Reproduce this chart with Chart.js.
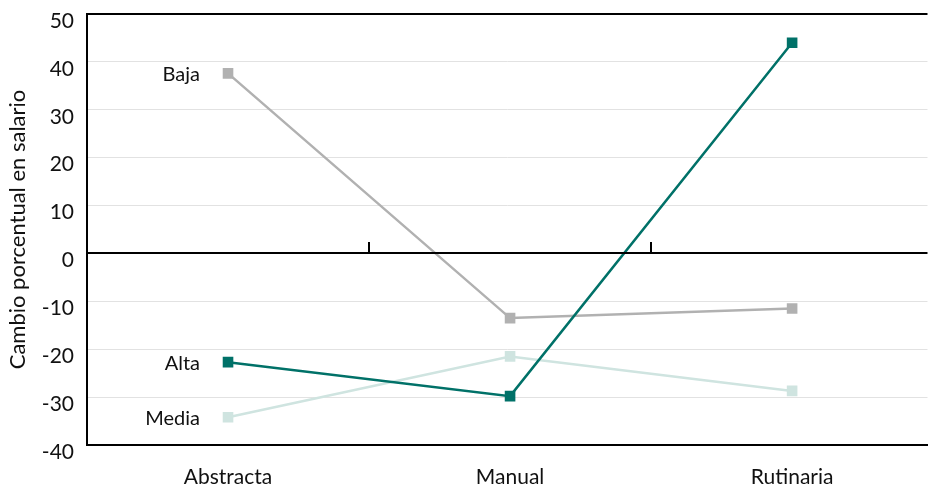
<!DOCTYPE html>
<html>
<head>
<meta charset="utf-8">
<script src="https://cdn.jsdelivr.net/npm/chart.js@4"></script>
<style>
  html, body { margin: 0; padding: 0; background: #fff; overflow: hidden; }
</style>
</head>
<body>
<canvas id="myChart" width="935" height="484"></canvas>
<script>
// categories and series
let categories = ["Abstracta", "Manual", "Rutinaria"];
let alta  = [-22.7, -29.8, 44.0];
let baja  = [37.6, -13.5, -11.5];
let media = [-34.2, -21.5, -28.7];
let seriesNames = ["Alta", "Baja", "Media"];
let seriesColors = ["#007168", "#b1b1b1", "#cfe4e0"];

// draws zero line with ticks and the series labels on the left
const extras = {
  id: "extras",
  afterDatasetsDraw(chart) {
    const ctx = chart.ctx;
    const x = chart.scales.x, y = chart.scales.y;
    const y0 = Math.round(y.getPixelForValue(0));
    ctx.save();
    ctx.strokeStyle = "#000";
    ctx.lineWidth = 2;
    ctx.beginPath();
    ctx.moveTo(x.left, y0);
    ctx.lineTo(x.right, y0);
    [0.5, 1.5].forEach(v => {
      const px = Math.round(x.getPixelForValue(v));
      ctx.moveTo(px, y0);
      ctx.lineTo(px, y0 - 11);
    });
    ctx.stroke();

    ctx.font = "20px Lato";
    ctx.fillStyle = "#111";
    ctx.textAlign = "right";
    ctx.textBaseline = "middle";
    chart.data.datasets.forEach((ds, i) => {
      const pt = chart.getDatasetMeta(i).data[0];
      ctx.fillText(ds.label, pt.x - 28, pt.y + 1);
    });
    ctx.restore();
  }
};

new Chart("myChart", {
  type: "line",
  data: {
    datasets: [alta, baja, media].map((d, i) => ({
      label: seriesNames[i],
      data: d.map((v, j) => ({ x: j, y: v })),
      borderColor: seriesColors[i],
      backgroundColor: seriesColors[i],
      borderWidth: 2.5,
      pointStyle: "rect",
      pointRadius: 7.5,
      pointBorderWidth: 0,
      pointHoverRadius: 7.5,
      fill: false,
      tension: 0
    }))
  },
  options: {
    responsive: false,
    animation: false,
    layout: { padding: { top: 14, right: 0, left: 0, bottom: 0 } },
    plugins: {
      legend: { display: false },
      tooltip: { enabled: false }
    },
    scales: {
      x: {
        type: "linear",
        min: -0.5,
        max: 2.48,
        grid: { display: false },
        border: { color: "#000", width: 2 },
        ticks: {
          color: "#111",
          font: { family: "Lato", size: 21 },
          padding: 12,
          maxRotation: 0,
          callback: v => categories[v] ?? ""
        },
        afterBuildTicks: s => { s.ticks = categories.map((c, i) => ({ value: i })); },
        afterFit: s => { s.height = 39; s.paddingLeft = 0; s.paddingRight = 0; }
      },
      y: {
        min: -40,
        max: 50,
        ticks: { stepSize: 10, color: "#111", font: { family: "Lato", size: 21 }, padding: 13, labelOffset: 7 },
        grid: {
          drawTicks: false,
          color: c => (c.tick.value === 50 || c.tick.value === -40) ? "#000" : (c.tick.value === 0 ? "rgba(0,0,0,0)" : "#e2e2e2"),
          lineWidth: c => (c.tick.value === 50 || c.tick.value === -40) ? 2 : 1
        },
        border: { color: "#000", width: 2 },
        title: {
          display: true,
          text: "Cambio porcentual en salario",
          color: "#111",
          font: { family: "Lato", size: 22, lineHeight: 1 },
          padding: { top: 7, bottom: 12 }
        },
        afterFit: s => { s.width = 87; s.paddingTop = 0; s.paddingBottom = 0; }
      }
    }
  },
  plugins: [extras]
});
</script>
</body>
</html>
